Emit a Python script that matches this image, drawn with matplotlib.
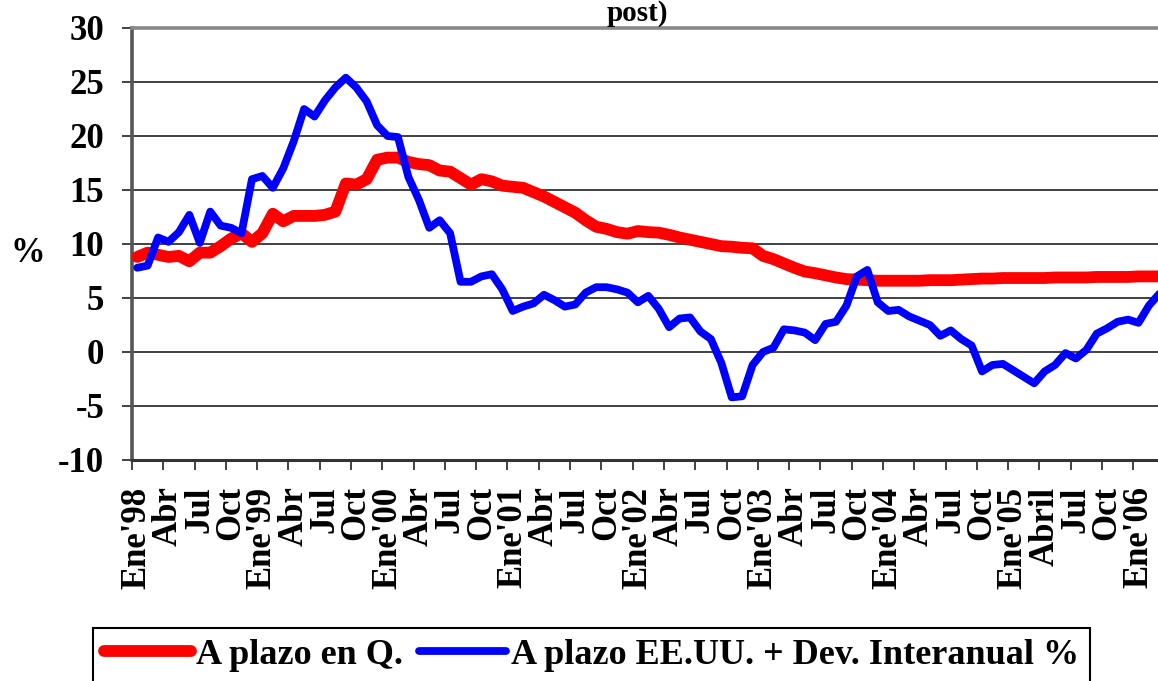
import matplotlib
matplotlib.use("Agg")
import matplotlib.pyplot as plt
import numpy as np

# monthly series, Ene'98 .. Mar'06
quetzales = [8.8, 9.2, 9.0, 8.8, 8.9, 8.4, 9.2, 9.2, 9.8, 10.5,
             11.0, 10.2, 11.0, 12.8, 12.1, 12.6, 12.6, 12.6, 12.7, 13.0,
             15.6, 15.5, 16.0, 17.8, 18.0, 18.0, 17.6, 17.4, 17.3, 16.8,
             16.7, 16.1, 15.5, 16.0, 15.8, 15.4, 15.3, 15.2, 14.8, 14.4,
             13.9, 13.4, 12.9, 12.2, 11.6, 11.4, 11.1, 10.95, 11.2, 11.1,
             11.05, 10.85, 10.6, 10.4, 10.2, 10.0, 9.8, 9.75, 9.65, 9.6,
             8.9, 8.6, 8.2, 7.8, 7.45, 7.3, 7.1, 6.9, 6.75, 6.7,
             6.65, 6.6, 6.6, 6.6, 6.6, 6.6, 6.65, 6.65, 6.65, 6.7,
             6.75, 6.8, 6.8, 6.85, 6.85, 6.85, 6.85, 6.85, 6.9, 6.9,
             6.9, 6.9, 6.95, 6.95, 6.95, 6.95, 7.0, 7.0, 7.0]

dolares_dev = [7.8, 8.0, 10.6, 10.2, 11.1, 12.7, 10.1, 13.0, 11.7, 11.5,
               11.0, 16.0, 16.3, 15.2, 17.0, 19.5, 22.5, 21.8, 23.3, 24.5,
               25.4, 24.5, 23.2, 21.0, 20.0, 19.9, 16.2, 14.1, 11.5, 12.2,
               11.0, 6.5, 6.5, 7.0, 7.2, 5.8, 3.8, 4.2, 4.5, 5.3,
               4.8, 4.2, 4.4, 5.5, 6.0, 6.0, 5.8, 5.5, 4.6, 5.2,
               4.0, 2.3, 3.1, 3.2, 1.9, 1.2, -1.0, -4.2, -4.1, -1.2,
               0.0, 0.4, 2.1, 2.0, 1.8, 1.1, 2.6, 2.8, 4.3, 7.0,
               7.6, 4.6, 3.8, 3.9, 3.3, 2.9, 2.5, 1.5, 2.0, 1.2,
               0.6, -1.8, -1.2, -1.1, -1.7, -2.3, -2.9, -1.8, -1.2, -0.1,
               -0.6, 0.2, 1.7, 2.2, 2.8, 3.0, 2.7, 4.3, 5.4]

tick_labels = ["Ene'98", "Abr", "Jul", "Oct", "Ene'99", "Abr", "Jul", "Oct",
               "Ene'00", "Abr", "Jul", "Oct", "Ene'01", "Abr", "Jul", "Oct",
               "Ene'02", "Abr", "Jul", "Oct", "Ene'03", "Abr", "Jul", "Oct",
               "Ene'04", "Abr", "Jul", "Oct", "Ene'05", "Abril", "Jul", "Oct",
               "Ene'06"]

serie_q = "A plazo en Q."
serie_d = "A plazo EE.UU. + Dev. Interanual %"

plt.rcParams['font.family'] = ['Liberation Serif', 'DejaVu Serif']
plt.rcParams['font.weight'] = 'bold'
plt.rcParams['axes.unicode_minus'] = False

W, H = 1158, 681
fig = plt.figure(figsize=(W / 100, H / 100), dpi=100)
# plot area runs past the right edge of the picture, as in the original
ax = fig.add_axes([132 / W, 1 - 460 / H, 1043 / W, 432 / H])

x = np.arange(len(quetzales))
ax.plot(x, quetzales, color='#ff0000', lw=8.5, solid_joinstyle='round',
        solid_capstyle='round', label=serie_q, zorder=3)
ax.plot(np.arange(len(dolares_dev)), dolares_dev, color='#0000ff', lw=5.6,
        solid_joinstyle='round', solid_capstyle='round', label=serie_d, zorder=4)

ax.set_xlim(-0.5, 99.5)
ax.set_ylim(-10, 30)
ax.set_yticks(np.arange(-10, 31, 5))
ax.yaxis.grid(True, color='#333333', lw=1.3)
ax.set_axisbelow(True)

pos = np.arange(0, 3 * len(tick_labels), 3)
ax.set_xticks(pos)
ax.set_xticklabels(tick_labels, rotation=90, fontsize=25, fontweight='bold')
ax.set_xticks(np.arange(-0.5, 100, 3), minor=True)
ax.tick_params(axis='x', which='major', length=0, pad=19)
ax.tick_params(axis='x', which='minor', length=7, width=1.2, color='#222222',
               direction='out')
ax.tick_params(axis='y', length=7, width=1.3, color='#333333', pad=13,
               labelsize=25)
for t in ax.get_yticklabels():
    t.set_fontweight('bold')

ax.spines['right'].set_visible(False)
ax.spines['top'].set_color('#888888')
ax.spines['top'].set_linewidth(2.6)
ax.spines['left'].set_color('#555555')
ax.spines['left'].set_linewidth(2.6)
ax.spines['bottom'].set_color('#333333')
ax.spines['bottom'].set_linewidth(2.2)

fig.text(28 / W, 1 - 253 / H, '%', fontsize=25, fontweight='bold',
         ha='center', va='center')
# second line of the title, the only part visible in the original
fig.text(637 / W, 1 - 21 / H, 'post)', fontsize=21, fontweight='bold',
         ha='center', va='baseline')

leg = fig.legend(loc='upper left', bbox_to_anchor=(93 / W, 1 - 628 / H),
                 ncol=2, frameon=True, fancybox=False,
                 borderaxespad=0, borderpad=0.3, handlelength=2.4,
                 handletextpad=0.15, columnspacing=0.45,
                 prop={'weight': 'bold', 'size': 26})
leg.get_frame().set_edgecolor('black')
leg.get_frame().set_linewidth(1.5)
leg.get_frame().set_alpha(1)

fig.savefig('out.png', dpi=100)
